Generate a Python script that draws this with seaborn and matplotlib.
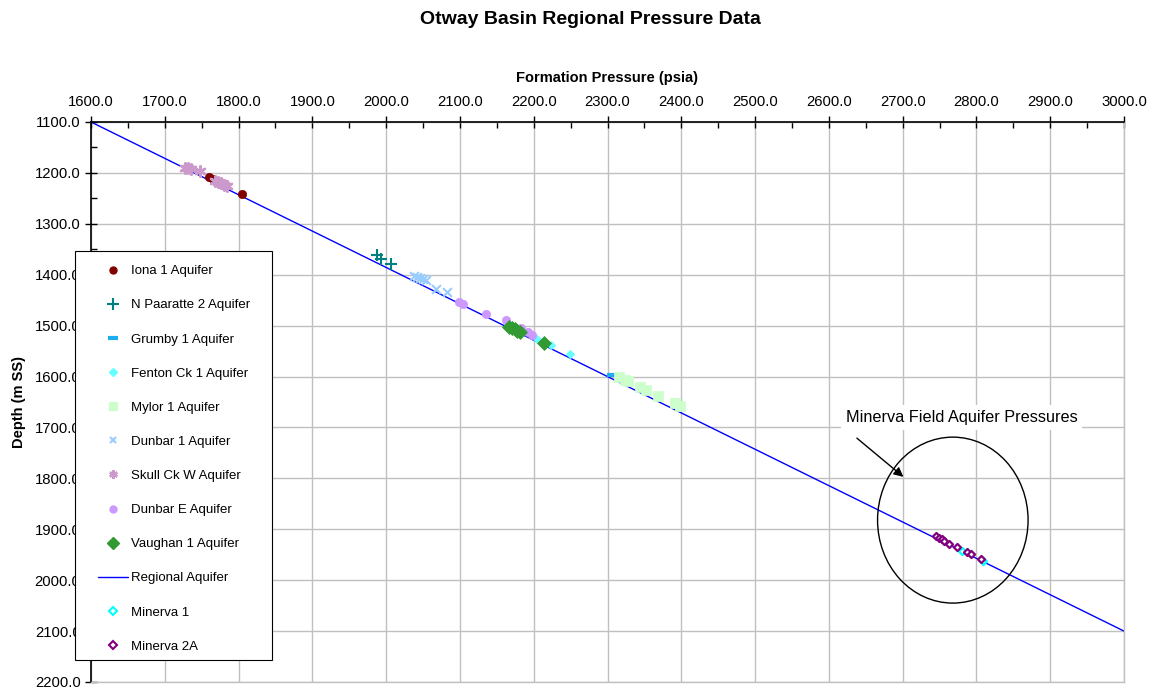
import matplotlib
matplotlib.use("Agg")
import matplotlib.pyplot as plt
import seaborn as sns
import pandas as pd
from matplotlib.patches import Ellipse, Rectangle
from matplotlib.ticker import MultipleLocator, FormatStrFormatter
from matplotlib.lines import Line2D

# ---- data (pressure psia, depth m SS) ----
iona_p = [1760, 1765, 1805]
iona_d = [1208, 1212, 1241]

paaratte_p = [1987, 1993, 2007]
paaratte_d = [1362, 1369, 1378]

grumby_p = [2306]
grumby_d = [1597]

fenton_p = [2204, 2224, 2249]
fenton_d = [1526, 1539, 1556]

mylor_p = [2316, 2324, 2328, 2344, 2352, 2369, 2391, 2398]
mylor_d = [1600, 1607, 1609, 1621, 1626, 1638, 1652, 1657]

dunbar1_p = [2038, 2042, 2046, 2050, 2054, 2068, 2083]
dunbar1_d = [1402, 1404, 1406, 1408, 1410, 1428, 1434]

skull_p = [1728, 1732, 1735, 1748, 1768, 1772, 1776, 1780, 1784]
skull_d = [1190, 1191, 1193, 1197, 1215, 1218, 1220, 1224, 1226]

dunbarE_p = [2099, 2104, 2135, 2163, 2183, 2192, 2198]
dunbarE_d = [1454, 1458, 1478, 1489, 1505, 1513, 1518]

vaughan_p = [2166, 2170, 2174, 2178, 2182, 2214]
vaughan_d = [1502, 1505, 1507, 1510, 1513, 1535]

regional_p = [1600, 3000]
regional_d = [1100, 2100]

minerva1_p = [2781, 2809]
minerva1_d = [1942, 1962]

minerva2a_p = [2745, 2749, 2753, 2756, 2763, 2773, 2787, 2792, 2806]
minerva2a_d = [1913, 1917, 1920, 1924, 1929, 1935, 1945, 1949, 1959]

x_ticks = [1600.0 + 100 * i for i in range(15)]
y_ticks = [1100.0 + 100 * i for i in range(12)]

sns.set_theme(style="white")
plt.rcParams["font.family"] = ["Liberation Sans", "DejaVu Sans"]
plt.rcParams["text.color"] = "black"
plt.rcParams["axes.labelcolor"] = "black"
plt.rcParams["xtick.color"] = "black"
plt.rcParams["ytick.color"] = "black"

W, H = 1152, 690
fig = plt.figure(figsize=(11.52, 6.9), dpi=100)
ax = fig.add_axes([91 / W, 1 - 682 / H, (1124 - 91) / W, (682 - 122) / H])

series = [
    ("Iona 1 Aquifer", iona_p, iona_d, dict(marker="o", color="#800000", s=36, edgecolor="#800000", linewidth=0.5)),
    ("N Paaratte 2 Aquifer", paaratte_p, paaratte_d, dict(marker="+", color="#008080", s=70, linewidth=1.5)),
    ("Grumby 1 Aquifer", grumby_p, grumby_d, dict(marker="_", color="#1EAEF0", s=60, linewidth=3)),
    ("Fenton Ck 1 Aquifer", fenton_p, fenton_d, dict(marker="D", color="#66FFFF", s=20, edgecolor="#66FFFF")),
    ("Mylor 1 Aquifer", mylor_p, mylor_d, dict(marker="s", color="#CCFFCC", s=45, edgecolor="#CCFFCC")),
    ("Dunbar 1 Aquifer", dunbar1_p, dunbar1_d, dict(marker="x", color="#99CCFF", s=40, linewidth=1.5)),
    ("Skull Ck W Aquifer", skull_p, skull_d, dict(marker=(6, 2, 0), color="#CC99CC", s=55, linewidth=1.8)),
    ("Dunbar E Aquifer", dunbarE_p, dunbarE_d, dict(marker="o", color="#CC99FF", s=36, edgecolor="#CC99FF")),
    ("Vaughan 1 Aquifer", vaughan_p, vaughan_d, dict(marker="D", color="#339933", s=50, edgecolor="#339933")),
]

for name, p, d, kw in series:
    df = pd.DataFrame({"p": p, "d": d})
    sns.scatterplot(data=df, x="p", y="d", ax=ax, legend=False, zorder=3, **kw)

df_reg = pd.DataFrame({"p": regional_p, "d": regional_d})
sns.lineplot(data=df_reg, x="p", y="d", ax=ax, color="#0000FF", linewidth=1.0, legend=False, zorder=2)

df_m1 = pd.DataFrame({"p": minerva1_p, "d": minerva1_d})
sns.scatterplot(data=df_m1, x="p", y="d", ax=ax, marker="D", s=13, facecolor="white",
                edgecolor="#00FFFF", linewidth=1.6, legend=False, zorder=4)
df_m2 = pd.DataFrame({"p": minerva2a_p, "d": minerva2a_d})
sns.scatterplot(data=df_m2, x="p", y="d", ax=ax, marker="D", s=13, facecolor="white",
                edgecolor="#800080", linewidth=1.6, legend=False, zorder=4)

# axes
ax.set_xlim(1600, 3000)
ax.set_ylim(2200, 1100)
ax.xaxis.tick_top()
ax.xaxis.set_label_position("top")
ax.set_xticks(x_ticks)
ax.set_yticks(y_ticks)
ax.xaxis.set_minor_locator(MultipleLocator(50))
ax.yaxis.set_minor_locator(MultipleLocator(50))
ax.xaxis.set_major_formatter(FormatStrFormatter("%.1f"))
ax.yaxis.set_major_formatter(FormatStrFormatter("%.1f"))
ax.tick_params(axis="both", which="major", direction="inout", length=8, width=1, color="black",
               labelsize=10.7, labelcolor="black")
ax.tick_params(axis="x", which="major", top=True, bottom=False, pad=5)
ax.tick_params(axis="x", which="minor", direction="in", length=4, top=True, bottom=False)
ax.tick_params(axis="y", which="minor", direction="in", length=4, left=True)
ax.tick_params(axis="y", which="major", left=True, pad=3.5)
ax.grid(True, which="major", color="#C0C0C0", linewidth=1.0)
ax.set_axisbelow(True)
for side in ["top", "left"]:
    ax.spines[side].set_color("black")
    ax.spines[side].set_linewidth(1.2)
for side in ["right", "bottom"]:
    ax.spines[side].set_color("#C0C0C0")
    ax.spines[side].set_linewidth(1.0)

ax.set_xlabel("Formation Pressure (psia)", fontsize=10.5, fontweight="bold", labelpad=10)
ax.set_ylabel("Depth (m SS)", fontsize=10.5, fontweight="bold", labelpad=6)
fig.suptitle("Otway Basin Regional Pressure Data", fontsize=14, fontweight="bold",
             y=1 - 20 / H, x=590 / W, va="center")

# ellipse + annotation
ell = Ellipse((2768, 1882), width=204, height=326, fill=False, edgecolor="black", linewidth=1.0, zorder=5)
ax.add_patch(ell)
ax.annotate("", xy=(2701, 1797), xytext=(2638, 1721),
            arrowprops=dict(arrowstyle="-|>", color="black", linewidth=1.0, mutation_scale=14,
                            shrinkA=0, shrinkB=0), zorder=6)
ax.text(2780, 1681, "Minerva Field Aquifer Pressures", fontsize=11.7, color="black",
        ha="center", va="center", zorder=6,
        bbox=dict(boxstyle="square,pad=0.3", facecolor="white", edgecolor="none"))

# legend box (frame) and legend entries
frame = Rectangle((75 / W, 1 - 660 / H), (272 - 75) / W, (660 - 251) / H, transform=fig.transFigure,
                  facecolor="white", edgecolor="black", linewidth=0.8, zorder=1)
fig.patches.append(frame)

handles = [
    Line2D([], [], linestyle="none", marker="o", color="#800000", markersize=5),
    Line2D([], [], linestyle="none", marker="+", color="#008080", markersize=8, markeredgewidth=1.5),
    Line2D([], [], linestyle="none", marker="_", color="#1EAEF0", markersize=7, markeredgewidth=3),
    Line2D([], [], linestyle="none", marker="D", color="#66FFFF", markersize=4),
    Line2D([], [], linestyle="none", marker="s", color="#CCFFCC", markersize=6),
    Line2D([], [], linestyle="none", marker="x", color="#99CCFF", markersize=5, markeredgewidth=1.5),
    Line2D([], [], linestyle="none", marker=(6, 2, 0), color="#CC99CC", markersize=6, markeredgewidth=1.8),
    Line2D([], [], linestyle="none", marker="o", color="#CC99FF", markersize=5),
    Line2D([], [], linestyle="none", marker="D", color="#339933", markersize=6),
    Line2D([], [], color="#0000FF", linewidth=1.0),
    Line2D([], [], linestyle="none", marker="D", markerfacecolor="white", markeredgecolor="#00FFFF",
           markersize=4, markeredgewidth=1.5),
    Line2D([], [], linestyle="none", marker="D", markerfacecolor="white", markeredgecolor="#800080",
           markersize=4, markeredgewidth=1.5),
]
labels = [s[0] for s in series] + ["Regional Aquifer", "Minerva 1", "Minerva 2A"]
leg = fig.legend(handles, labels, loc="upper left", bbox_to_anchor=(98 / W, 1 - 265 / H),
                 fontsize=9.5, frameon=False, labelspacing=1.66, handlelength=2.27,
                 handletextpad=0.25, borderpad=0, borderaxespad=0)
leg.set_zorder(6)

fig.savefig("out.png", dpi=100)
